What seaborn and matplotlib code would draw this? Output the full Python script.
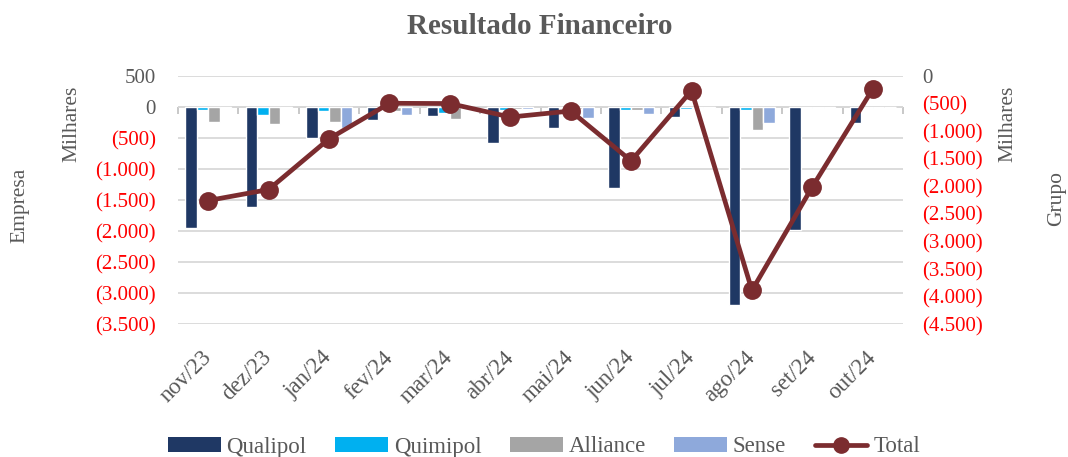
import numpy as np
import pandas as pd
import matplotlib
matplotlib.use("Agg")
import matplotlib.pyplot as plt
import seaborn as sns
from matplotlib.patches import Patch
from matplotlib.lines import Line2D

# ---------------- data (Milhares) ----------------
months = ['nov/23', 'dez/23', 'jan/24', 'fev/24', 'mar/24', 'abr/24',
          'mai/24', 'jun/24', 'jul/24', 'ago/24', 'set/24', 'out/24']
series_names = ['Qualipol', 'Quimipol', 'Alliance', 'Sense']
qualipol = [-1950, -1620, -505, -210, -145, -580, -335, -1300, -160, -3195, -1990, -253]
quimipol = [-55, -130, -65, -30, -100, -55, -20, -50, -40, -50, -10, -10]
alliance = [-240, -270, -235, -70, -190, -25, -30, -50, 0, -377, 0, 0]
sense = [-12, -10, -333, -135, -10, -25, -170, -110, -10, -253, -15, -5]
total = [-2260, -2060, -1140, -495, -500, -745, -635, -1540, -265, -3890, -2010, -235]
left_ticks = list(range(-3500, 501, 500))
right_ticks = list(range(-4500, 1, 500))

colors = {'Qualipol': '#1F3864', 'Quimipol': '#00B0F0',
          'Alliance': '#A5A5A5', 'Sense': '#8EA9DB'}
total_color = '#7B2C2F'
txt = '#595959'

df = pd.DataFrame({
    'Mês': months * 4,
    'Série': sum([[n] * len(months) for n in series_names], []),
    'Valor': qualipol + quimipol + alliance + sense,
})

sns.set_theme(style='white')
plt.rcParams['font.family'] = ['Liberation Serif', 'DejaVu Serif']


def fmt(v):
    s = f'{abs(v):,}'.replace(',', '.')
    return f'({s})' if v < 0 else s


fig = plt.figure(figsize=(10.68, 4.57), dpi=100)
ax = fig.add_axes([178 / 1068, 1 - 324 / 457, (903 - 178) / 1068, (324 - 76) / 457])

ax.axhline(0, color='#BFBFBF', lw=1.2, zorder=0.5)
sns.barplot(data=df, x='Mês', y='Valor', hue='Série', hue_order=series_names,
            order=months, palette=colors, width=0.76, gap=0, saturation=1,
            legend=False, ax=ax, zorder=2)

ax2 = ax.twinx()
sns.pointplot(x=months, y=total, order=months, ax=ax2, color=total_color,
              markers='o', markersize=11, linewidth=3.4, errorbar=None)

# left axis
ax.set_ylim(left_ticks[0], left_ticks[-1])
ax.set_yticks(left_ticks, [fmt(v) for v in left_ticks])
for lab, v in zip(ax.get_yticklabels(), left_ticks):
    lab.set_color('red' if v < 0 else txt)
ax.tick_params(axis='y', length=0, pad=16, labelsize=15)
ax.yaxis.grid(True, color='#D9D9D9', lw=1.3)
ax.set_axisbelow(True)
ax.set_xlabel('')
ax.set_ylabel('')

# right axis
ax2.set_ylim(right_ticks[0], right_ticks[-1])
ax2.set_yticks(right_ticks, [fmt(v) for v in right_ticks])
for lab, v in zip(ax2.get_yticklabels(), right_ticks):
    lab.set_color('red' if v < 0 else txt)
ax2.tick_params(axis='y', length=0, pad=14, labelsize=15)
ax2.grid(False)
ax2.set_ylabel('')
ax2.set_xlabel('')

# category axis
ax.set_xlim(-0.5, len(months) - 0.5)
ax.set_xticks(range(len(months)), months)
plt.setp(ax.get_xticklabels(), rotation=45, ha='right', va='center',
         rotation_mode='anchor')
ax.tick_params(axis='x', length=0, pad=22, labelsize=16.5, labelcolor=txt)

zero_frac = (0 - left_ticks[0]) / (left_ticks[-1] - left_ticks[0])
sec = ax.secondary_xaxis(zero_frac)
sec.xaxis.set_ticks_position('bottom')
sec.set_xticks(np.arange(len(months) + 1) - 0.5, [''] * (len(months) + 1))
sec.tick_params(axis='x', direction='out', length=5, width=1.2, color='#BFBFBF',
                labelbottom=False, labeltop=False)
for s in sec.spines.values():
    s.set_visible(False)

for a in (ax, ax2):
    for s in a.spines.values():
        s.set_visible(False)

# titles / labels
fig.text(540 / 1068, 1 - 26 / 457, 'Resultado Financeiro', ha='center', va='center',
         fontsize=21, fontweight='bold', color=txt)
fig.text(20 / 1068, 1 - 205 / 457, 'Empresa', rotation=90, ha='center', va='center',
         fontsize=15.5, color=txt)
fig.text(72 / 1068, 1 - 124 / 457, 'Milhares', rotation=90, ha='center', va='center',
         fontsize=15.5, color=txt)
fig.text(1008 / 1068, 1 - 124 / 457, 'Milhares', rotation=90, ha='center', va='center',
         fontsize=15.5, color=txt)
fig.text(1057 / 1068, 1 - 199 / 457, 'Grupo', rotation=90, ha='center', va='center',
         fontsize=15.5, color=txt)

handles = [Patch(facecolor=colors[n], edgecolor='none', label=n) for n in series_names]
handles.append(Line2D([0], [0], color=total_color, lw=3.4, marker='o', markersize=11,
                      label='Total'))
leg = fig.legend(handles=handles, loc='center', bbox_to_anchor=(544 / 1068, 1 - 447 / 457),
                 ncol=5, frameon=False, fontsize=16.5, handlelength=2.3, handleheight=0.6,
                 handletextpad=0.25, columnspacing=1.25)
for t in leg.get_texts():
    t.set_color(txt)

fig.savefig('out.png', dpi=100)
